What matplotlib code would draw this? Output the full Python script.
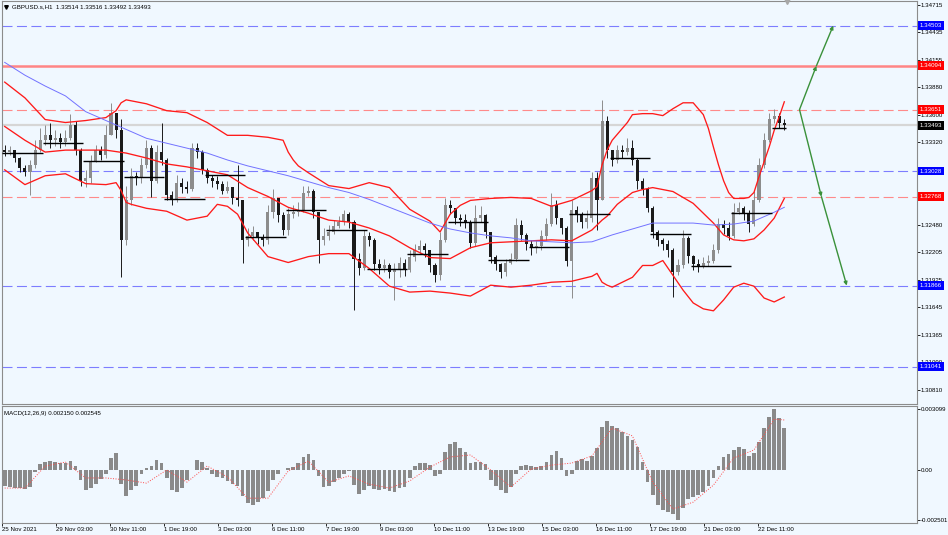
import matplotlib
matplotlib.use("Agg")
import matplotlib.pyplot as plt
import matplotlib.transforms as mtransforms
from matplotlib.patches import Rectangle

plt.rcParams['font.family'] = ['Liberation Sans', 'DejaVu Sans']

# ---------------- data ----------------
chart_title = "GBPUSD.s,H1  1.33514 1.33516 1.33492 1.33493"
macd_title = "MACD(12,26,9) 0.002150 0.002545"

time_labels = ["25 Nov 2021", "29 Nov 03:00", "30 Nov 11:00", "1 Dec 19:00",
               "3 Dec 03:00", "6 Dec 11:00", "7 Dec 19:00", "9 Dec 03:00",
               "10 Dec 11:00", "13 Dec 19:00", "15 Dec 03:00", "16 Dec 11:00",
               "17 Dec 19:00", "21 Dec 03:00", "22 Dec 11:00"]
price_ticks = [1.34715, 1.34435, 1.34155, 1.33880, 1.33600, 1.33320, 1.33040,
               1.32760, 1.32480, 1.32205, 1.31925, 1.31645, 1.31365, 1.31090, 1.30810]
macd_ticks = [0.003099, 0.0, -0.002501]
macd_tick_labels = ["0.003099", "0.00", "-0.002501"]

first_open = 1.3324
closes = [1.3322, 1.3324, 1.3316, 1.3306, 1.3302, 1.3309, 1.3324, 1.3334, 1.3339, 1.3334,
          1.3336, 1.3332, 1.3336, 1.3349, 1.3324, 1.3293, 1.3296, 1.3312, 1.3324, 1.3319,
          1.3339, 1.3362, 1.3344, 1.3233, 1.3273, 1.3298, 1.3296, 1.3309, 1.3326, 1.3293,
          1.3322, 1.3314, 1.3278, 1.3273, 1.3291, 1.3287, 1.3285, 1.3326, 1.3322, 1.3304,
          1.3296, 1.3293, 1.3290, 1.3283, 1.3287, 1.3275, 1.3273, 1.3233, 1.3237, 1.3241,
          1.3235, 1.3233, 1.3261, 1.3275, 1.3258, 1.3243, 1.3259, 1.3261, 1.3263, 1.3281,
          1.3283, 1.3261, 1.3233, 1.3237, 1.3241, 1.3247, 1.3251, 1.3259, 1.3251, 1.3214,
          1.3204, 1.3237, 1.3233, 1.3208, 1.3204, 1.3207, 1.3200, 1.3202, 1.3210, 1.3202,
          1.3216, 1.3223, 1.3227, 1.3223, 1.3207, 1.3197, 1.3233, 1.3268, 1.3265, 1.3255,
          1.3253, 1.3251, 1.3230, 1.3255, 1.3258, 1.3241, 1.3216, 1.3208, 1.3200, 1.3210,
          1.3214, 1.3248, 1.3238, 1.3229, 1.3225, 1.3227, 1.3237, 1.3249, 1.3268, 1.3255,
          1.3245, 1.3212, 1.3263, 1.3258, 1.3251, 1.3255, 1.3296, 1.3273, 1.3354, 1.3324,
          1.3314, 1.3324, 1.3322, 1.3326, 1.3314, 1.3293, 1.3285, 1.3265, 1.3241, 1.3233,
          1.3229, 1.3223, 1.3200, 1.3207, 1.3235, 1.3217, 1.3208, 1.3206, 1.3210, 1.3212,
          1.3223, 1.3249, 1.3245, 1.3237, 1.3261, 1.3265, 1.3259, 1.3249, 1.3273, 1.3309,
          1.3334, 1.3356, 1.3359, 1.3352, 1.33493]
highs = [1.3329, 1.3328, 1.3324, 1.3317, 1.3309, 1.3314, 1.3334, 1.3346, 1.3349, 1.3352,
         1.3344, 1.3341, 1.3344, 1.3361, 1.3354, 1.3326, 1.3304, 1.3319, 1.3329, 1.3328,
         1.3349, 1.3372, 1.3362, 1.3356, 1.3288, 1.3306, 1.3302, 1.3316, 1.3334, 1.3329,
         1.3329, 1.3351, 1.3316, 1.3283, 1.3299, 1.3296, 1.3293, 1.3331, 1.3331, 1.3324,
         1.3306, 1.3299, 1.3298, 1.3293, 1.3293, 1.3287, 1.3309, 1.3273, 1.3245, 1.3247,
         1.3241, 1.3239, 1.3268, 1.3285, 1.3275, 1.3261, 1.3265, 1.3268, 1.3271, 1.3288,
         1.3288, 1.3285, 1.3261, 1.3245, 1.3248, 1.3253, 1.3257, 1.3263, 1.3261, 1.3253,
         1.3220, 1.3243, 1.3241, 1.3235, 1.3214, 1.3214, 1.3210, 1.3210, 1.3216, 1.3214,
         1.3223, 1.3229, 1.3233, 1.3230, 1.3223, 1.3210, 1.3241, 1.3275, 1.3273, 1.3265,
         1.3259, 1.3259, 1.3253, 1.3268, 1.3267, 1.3259, 1.3241, 1.3218, 1.3210, 1.3214,
         1.3220, 1.3255, 1.3253, 1.3240, 1.3233, 1.3233, 1.3243, 1.3255, 1.3281, 1.3273,
         1.3255, 1.3247, 1.3273, 1.3267, 1.3261, 1.3263, 1.3302, 1.3302, 1.3375, 1.3359,
         1.3324, 1.3329, 1.3329, 1.3336, 1.3334, 1.3316, 1.3296, 1.3287, 1.3267, 1.3243,
         1.3235, 1.3233, 1.3225, 1.3214, 1.3243, 1.3237, 1.3218, 1.3214, 1.3216, 1.3218,
         1.3229, 1.3255, 1.3253, 1.3251, 1.3270, 1.3271, 1.3267, 1.3263, 1.3283, 1.3316,
         1.3341, 1.3362, 1.3366, 1.3362, 1.3356]
lows = [1.3318, 1.3319, 1.3312, 1.3302, 1.3298, 1.3278, 1.3306, 1.3322, 1.3329, 1.3326,
        1.3328, 1.3326, 1.3328, 1.3334, 1.3319, 1.3288, 1.3287, 1.3291, 1.3312, 1.3314,
        1.3316, 1.3339, 1.3336, 1.3195, 1.3228, 1.3268, 1.3289, 1.3291, 1.3306, 1.3276,
        1.3291, 1.3309, 1.3273, 1.3268, 1.3271, 1.3281, 1.3281, 1.3283, 1.3316, 1.3300,
        1.3291, 1.3287, 1.3285, 1.3279, 1.3281, 1.3269, 1.3267, 1.3209, 1.3227, 1.3233,
        1.3229, 1.3227, 1.3229, 1.3255, 1.3251, 1.3238, 1.3238, 1.3255, 1.3257, 1.3261,
        1.3277, 1.3255, 1.3209, 1.3228, 1.3233, 1.3239, 1.3245, 1.3248, 1.3245, 1.3162,
        1.3197, 1.3202, 1.3227, 1.3202, 1.3198, 1.3200, 1.3194, 1.3172, 1.3195, 1.3196,
        1.3200, 1.3212, 1.3219, 1.3216, 1.3200, 1.3190, 1.3192, 1.3231, 1.3259, 1.3249,
        1.3247, 1.3245, 1.3225, 1.3227, 1.3251, 1.3235, 1.3210, 1.3202, 1.3194, 1.3196,
        1.3208, 1.3212, 1.3233, 1.3223, 1.3218, 1.3220, 1.3223, 1.3233, 1.3247, 1.3249,
        1.3239, 1.3206, 1.3174, 1.3251, 1.3245, 1.3245, 1.3251, 1.3243, 1.3273, 1.3316,
        1.3308, 1.3311, 1.3316, 1.3319, 1.3309, 1.3285, 1.3278, 1.3261, 1.3235, 1.3227,
        1.3223, 1.3216, 1.3175, 1.3197, 1.3204, 1.3210, 1.3202, 1.3200, 1.3204, 1.3206,
        1.3210, 1.3220, 1.3239, 1.3233, 1.3235, 1.3259, 1.3253, 1.3241, 1.3247, 1.3271,
        1.3306, 1.3332, 1.3352, 1.3346, 1.3344]

# Bollinger bands (upper / middle / lower) read at these candle indices
bb_upper_at = [0, 4, 8, 12, 16, 20, 22, 23, 24, 26, 28, 32, 36, 40, 44, 48, 52, 55, 56, 57,
               58, 60, 64, 68, 72, 76, 80, 84, 86, 88, 90, 92, 96, 100, 104, 108, 112, 116,
               117, 118, 119, 120, 122, 123, 124, 126, 128, 130, 132, 134, 136, 138, 139,
               140, 141, 142, 143, 144, 146, 147, 148, 149, 150, 151, 152, 153, 154]
bb_upper = [1.3393, 1.3377, 1.3355, 1.3352, 1.3354, 1.3357, 1.3364, 1.3372, 1.3375, 1.3373,
            1.3371, 1.3364, 1.3362, 1.3352, 1.3339, 1.3339, 1.3337, 1.3334, 1.3322, 1.3314,
            1.3308, 1.3301, 1.3288, 1.3285, 1.3291, 1.3286, 1.3264, 1.3252, 1.3241, 1.3259,
            1.3268, 1.3273, 1.3275, 1.3276, 1.3275, 1.3267, 1.3273, 1.3283, 1.3287, 1.3309,
            1.3324, 1.3334, 1.3346, 1.3352, 1.3360, 1.3361, 1.3361, 1.3359, 1.3366, 1.3372,
            1.3372, 1.3360, 1.3346, 1.3327, 1.3309, 1.3293, 1.3281, 1.3275, 1.3275, 1.3276,
            1.3281, 1.3297, 1.3312, 1.3327, 1.3344, 1.3358, 1.3373]
bb_middle_at = [0, 4, 8, 12, 16, 20, 24, 28, 32, 36, 40, 44, 48, 52, 56, 60, 64, 68, 72, 76,
                80, 84, 88, 92, 96, 100, 104, 108, 112, 116, 117, 118, 119, 120, 121, 122,
                124, 126, 128, 132, 136, 138, 140, 142, 144, 146, 148, 150, 152, 153, 154]
bb_middle = [1.3348, 1.3334, 1.3322, 1.3324, 1.3324, 1.3324, 1.3321, 1.3316, 1.3310, 1.3307,
             1.3303, 1.3299, 1.3286, 1.3277, 1.3266, 1.3260, 1.3253, 1.3251, 1.3245, 1.3237,
             1.3225, 1.3215, 1.3214, 1.3225, 1.3230, 1.3231, 1.3232, 1.3233, 1.3232, 1.3243,
             1.3248, 1.3253, 1.3257, 1.3263, 1.3269, 1.3273, 1.3281, 1.3284, 1.3286, 1.3282,
             1.3270, 1.3260, 1.3250, 1.3238, 1.3233, 1.3232, 1.3234, 1.3243, 1.3255, 1.3265,
             1.3275]
bb_lower_at = [0, 4, 8, 12, 16, 20, 22, 23, 24, 25, 28, 32, 36, 40, 42, 44, 46, 48, 52, 56,
               60, 64, 68, 72, 76, 80, 84, 88, 92, 96, 100, 104, 108, 112, 116, 117, 118,
               119, 120, 124, 126, 128, 130, 132, 134, 136, 138, 140, 142, 144, 146, 148,
               150, 152, 154]
bb_lower = [1.3304, 1.3289, 1.3298, 1.3300, 1.3290, 1.3289, 1.3291, 1.3283, 1.3271, 1.3269,
            1.3265, 1.3262, 1.3253, 1.3257, 1.3269, 1.3267, 1.3259, 1.3240, 1.3216, 1.3210,
            1.3216, 1.3219, 1.3219, 1.3204, 1.3186, 1.3180, 1.3181, 1.3179, 1.3176, 1.3187,
            1.3185, 1.3187, 1.3190, 1.3191, 1.3196, 1.3199, 1.3190, 1.3187, 1.3185, 1.3195,
            1.3207, 1.3207, 1.3212, 1.3197, 1.3182, 1.3169, 1.3163, 1.3161, 1.3172, 1.3185,
            1.3189, 1.3186, 1.3174, 1.3170, 1.3175]
# slow moving average (blue) and MACD signal read at these candle indices
slow_at = [0, 4, 8, 12, 16, 20, 24, 28, 32, 36, 40, 44, 48, 52, 56, 60, 64, 68, 72, 76,
           80, 84, 88, 92, 96, 100, 104, 108, 112, 116, 120, 124, 128, 132, 136, 140, 144,
           148, 152, 154]
ma_slow = [1.3413, 1.3400, 1.3389, 1.3379, 1.3363, 1.3354, 1.3345, 1.3336, 1.3331, 1.3326,
           1.3321, 1.3314, 1.3308, 1.3303, 1.3298, 1.3292, 1.3286, 1.3281, 1.3274, 1.3266,
           1.3258, 1.3250, 1.3244, 1.3240, 1.3237, 1.3235, 1.3232, 1.3231, 1.3230, 1.3231,
           1.3238, 1.3244, 1.3250, 1.3250, 1.3250, 1.3248, 1.3249, 1.3252, 1.3261, 1.3266]
macd_signal = [-0.00089, -0.00089, 0.00022, 0.00042, -0.00038, -0.00038, -0.00048, -0.00064,
               0.00002, -0.00059, 0.00022, -0.00033, -0.00140, -0.00140, -0.00003, 0.00047,
               -0.00059, -0.00028, -0.00069, -0.00089, -0.00053, 0.00017, 0.00068, 0.00078,
               0.00002, -0.00084, 0.00007, 0.00027, 0.00037, 0.00073, 0.00214, 0.00174,
               -0.00059, -0.00195, -0.00160, -0.00074, 0.00063, 0.00103, 0.00259, 0.002545]
macd_main = [-0.00079, -0.00084, -0.00089, -0.00089, -0.00093, -0.00084, -0.00008, 0.00032, 0.00042, 0.00047,
             0.00042, 0.00037, 0.00037, 0.00047, 0.00022, -0.00048, -0.00098, -0.00089, -0.00069, -0.00043,
             -0.00018, 0.00063, 0.00088, -0.00069, -0.00130, -0.00098, -0.00079, -0.00018, 0.00012, 0.00022,
             0.00052, 0.00037, -0.00038, -0.00098, -0.00109, -0.00089, -0.00048, 0.00002, 0.00052, 0.00042,
             0.00012, -0.00018, -0.00033, -0.00038, -0.00053, -0.00069, -0.00079, -0.00130, -0.00164, -0.00174,
             -0.00159, -0.00140, -0.00104, -0.00048, -0.00018, 0.00002, 0.00012, 0.00017, 0.00037, 0.00068,
             0.00083, 0.00052, -0.00028, -0.00084, -0.00079, -0.00059, -0.00038, -0.00018, -0.00003, -0.00074,
             -0.00120, -0.00098, -0.00079, -0.00093, -0.00098, -0.00093, -0.00104, -0.00109, -0.00089, -0.00084,
             -0.00038, 0.00022, 0.00037, 0.00037, 0.00027, -0.00028, -0.00018, 0.00093, 0.00133, 0.00143,
             0.00113, 0.00093, 0.00037, 0.00042, 0.00042, 0.00032, -0.00048, -0.00079, -0.00098, -0.00114,
             -0.00084, -0.00018, 0.00022, 0.00027, 0.00022, 0.00017, 0.00022, 0.00042, 0.00078, 0.00098,
             0.00063, -0.00028, -0.00018, 0.00047, 0.00057, 0.00047, 0.00073, 0.00113, 0.00219, 0.00249,
             0.00224, 0.00214, 0.00194, 0.00174, 0.00153, 0.00118, 0.00042, -0.00059, -0.00125, -0.00174,
             -0.00200, -0.00210, -0.00220, -0.002501, -0.00190, -0.00144, -0.00134, -0.00125, -0.00110, -0.00079,
             -0.00038, 0.00022, 0.00068, 0.00083, 0.00103, 0.00118, 0.00108, 0.00073, 0.00088, 0.00143,
             0.00214, 0.00269, 0.003099, 0.00264, 0.00215]

daily_open = [1.3321, 1.3331, 1.3313, 1.3297, 1.3274, 1.3299, 1.3236, 1.3263, 1.3243, 1.3203,
              1.3219, 1.3251, 1.3213, 1.3226, 1.3259, 1.3316, 1.3239, 1.3206, 1.3260, 1.3346]

blue_levels = [1.34503, 1.33028, 1.31866, 1.31041]
red_dash_levels = [1.33651, 1.32768]
red_solid_levels = [1.34094]
last_price = 1.33493

arrow_up_bars = [472, 482, 492]
arrow_up_prices = [1.33651, 1.34094, 1.34503]
arrow_dn_bars = [472, 485, 500]
arrow_dn_prices = [1.33651, 1.32768, 1.31866]

# ---------------- layout / style ----------------
BG = '#f0f8ff'
W, H = 948, 535
BARS_PER_CANDLE = 3
BARS_PER_DAY = 24
BARS_PER_LABEL = 32
PX_PER_BAR = 1.6875
FS = 4.4

fig = plt.figure(figsize=(W / 100, H / 100), dpi=100, facecolor=BG)


def px_rect(x0, y0, x1, y1):
    return [x0 / W, 1 - y1 / H, (x1 - x0) / W, (y1 - y0) / H]


def cbar(k):
    return BARS_PER_CANDLE * k + 1


ax = fig.add_axes(px_rect(2, 1, 917, 404), facecolor=BG)
axm = fig.add_axes(px_rect(2, 406, 917, 523), facecolor=BG)

x_lo = (2 - 3) / PX_PER_BAR
x_hi = (917 - 3) / PX_PER_BAR
for a in (ax, axm):
    a.set_xlim(x_lo, x_hi)
    for s in a.spines.values():
        s.set_color('#8c8c8c')
        s.set_linewidth(0.8)
ax.set_ylim(1.306649, 1.347525)
axm.set_ylim(-0.002652, 0.003250)

# ---- candles ----
opens = [first_open] + closes[:-1]
for k, (o, h, l, c) in enumerate(zip(opens, highs, lows, closes)):
    x = cbar(k)
    col = '#8c8c8c' if c >= o else '#1a1a1a'
    ax.vlines(x, l, h, color=col, lw=0.7, zorder=3)
    lo_b, hi_b = min(o, c), max(o, c)
    ax.add_patch(Rectangle((x - 0.9, lo_b), 1.8, max(hi_b - lo_b, 0.00004),
                           facecolor=col, edgecolor='none', zorder=3))

# ---- indicators ----
for at, band in ((bb_upper_at, bb_upper), (bb_middle_at, bb_middle), (bb_lower_at, bb_lower)):
    ax.plot([cbar(k) for k in at], band, color='#ff1a1a', lw=0.95, zorder=4,
            solid_joinstyle='round')
slow_x = [cbar(k) for k in slow_at]
ax.plot(slow_x, ma_slow, color='#7272ff', lw=0.7, zorder=4)

# ---- daily open segments ----
last_bar = cbar(len(closes) - 1)
for n, lev in enumerate(daily_open):
    x0 = BARS_PER_DAY * n - 0.3
    x1 = min(BARS_PER_DAY * (n + 1) - 0.3, last_bar + 1)
    ax.hlines(lev, max(x0, x_lo), x1, color='#000000', lw=1.0, zorder=4)

# ---- horizontal levels ----
ax.axhline(last_price, color='#d6d6d6', lw=1.6, zorder=1)
for lev in blue_levels:
    ax.axhline(lev, color='#7d7dff', lw=0.8, dashes=(9, 4), zorder=2)
for lev in red_dash_levels:
    ax.axhline(lev, color='#ff8a8a', lw=0.8, dashes=(9, 4), zorder=2)
for lev in red_solid_levels:
    ax.axhline(lev, color='#ff8585', lw=1.8, zorder=2)

# ---- arrows ----
for bars, prices in ((arrow_up_bars, arrow_up_prices), (arrow_dn_bars, arrow_dn_prices)):
    for i in range(len(bars) - 1):
        ax.annotate('', xy=(bars[i + 1], prices[i + 1]), xytext=(bars[i], prices[i]),
                    arrowprops=dict(arrowstyle='-|>', color='#3a913a', lw=1.0,
                                    mutation_scale=5, shrinkA=0, shrinkB=0),
                    zorder=6)

# ---- right price axis ----
ax.yaxis.tick_right()
ax.set_yticks(price_ticks)
ax.set_yticklabels([f"{v:.5f}" for v in price_ticks])
ax.tick_params(axis='y', labelsize=FS, length=2, width=0.6, pad=0.8,
               colors='#000000')
ax.set_xticks([])

trans = mtransforms.blended_transform_factory(ax.transAxes, ax.transData)


def level_label(v, fc):
    ax.text(1.0 + 2.6 / 915, v, f"{v:.5f}", transform=trans, fontsize=FS,
            color='white', va='center', ha='left', zorder=10, clip_on=False,
            bbox=dict(boxstyle='square,pad=0.32', fc=fc, ec='none'))


for lev in blue_levels:
    level_label(lev, '#0000ff')
for lev in red_dash_levels + red_solid_levels:
    level_label(lev, '#ff0000')
level_label(last_price, '#000000')

# ---- titles ----
ax.text((12 - 2) / 915, 1 - (7 - 1) / 403, chart_title, transform=ax.transAxes,
        fontsize=FS, va='center', ha='left', color='#000000', zorder=10)
ax.plot([(6 - 2) / 915], [1 - (7 - 1) / 403], marker='v', color='#000000',
        markersize=2.6, transform=ax.transAxes, clip_on=False, zorder=10)
ax.plot([last_bar + 1.5], [1.0], marker='v', color='#a8a8a8', markersize=4,
        transform=mtransforms.blended_transform_factory(ax.transData, ax.transAxes),
        clip_on=False, zorder=10)

# ---- MACD ----
cx = [cbar(k) for k in range(len(macd_main))]
axm.bar(cx, macd_main, width=2.2, color='#8a8a8a', edgecolor='none', zorder=3)
axm.plot(slow_x, macd_signal, color='#ff4a4a', lw=0.7, dashes=(1, 1.6), zorder=4)
axm.yaxis.tick_right()
axm.set_yticks(macd_ticks)
axm.set_yticklabels(macd_tick_labels)
axm.tick_params(axis='y', labelsize=FS, length=2, width=0.6, pad=0.8, colors='#000000')
axm.text(2 / 915, 1 - (413 - 406) / 117, macd_title, transform=axm.transAxes,
         fontsize=FS, va='center', ha='left', color='#000000', zorder=10)

tick_pos = [BARS_PER_LABEL * i - 0.5 for i in range(len(time_labels))]
axm.set_xticks(tick_pos)
axm.set_xticklabels(time_labels)
for lbl in axm.get_xticklabels():
    lbl.set_ha('left')
axm.tick_params(axis='x', labelsize=FS, length=2, width=0.6, pad=1.0, colors='#000000')

fig.savefig('out.png', dpi=100, facecolor=BG)
